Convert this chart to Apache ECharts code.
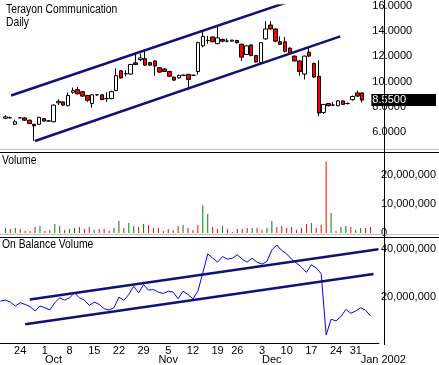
<!DOCTYPE html>
<html><head><meta charset="utf-8">
<script src="https://cdn.jsdelivr.net/npm/echarts@6/dist/echarts.min.js"></script>
<style>html,body{margin:0;padding:0;background:#fff}#c{width:439px;height:365px}</style>
</head><body><div id="c"></div>
<script>
// Trading days (index = x position on every panel). Candles/volume start at index 1.
const dates = [
 '2001-09-18','2001-09-19','2001-09-20','2001-09-21','2001-09-24','2001-09-25','2001-09-26','2001-09-27','2001-09-28',
 '2001-10-01','2001-10-02','2001-10-03','2001-10-04','2001-10-05','2001-10-08','2001-10-09','2001-10-10','2001-10-11','2001-10-12',
 '2001-10-15','2001-10-16','2001-10-17','2001-10-18','2001-10-19','2001-10-22','2001-10-23','2001-10-24','2001-10-25','2001-10-26',
 '2001-10-29','2001-10-30','2001-10-31','2001-11-01','2001-11-02','2001-11-05','2001-11-06','2001-11-07','2001-11-08','2001-11-09',
 '2001-11-12','2001-11-13','2001-11-14','2001-11-15','2001-11-16','2001-11-19','2001-11-20','2001-11-21','2001-11-23',
 '2001-11-26','2001-11-27','2001-11-28','2001-11-29','2001-11-30','2001-12-03','2001-12-04','2001-12-05','2001-12-06','2001-12-07',
 '2001-12-10','2001-12-11','2001-12-12','2001-12-13','2001-12-14','2001-12-17','2001-12-18','2001-12-19','2001-12-20','2001-12-21',
 '2001-12-24','2001-12-26','2001-12-27','2001-12-28','2001-12-31','2002-01-02','2002-01-03','2002-01-04'
];
const opens = [7.12,7.15,6.64,7.15,7.14,6.96,6.64,6.64,7.09,6.90,6.84,8.33,8.40,8.10,9.16,9.36,9.21,8.91,8.28,8.96,
 8.96,8.66,8.66,9.29,10.85,10.62,10.60,11.48,11.73,11.81,11.50,11.63,11.10,11.00,10.80,10.35,10.29,10.50,10.57,10.50,
 10.80,12.82,13.24,13.52,12.99,13.32,13.19,13.19,13.24,12.94,12.14,12.89,12.06,11.48,13.37,14.46,14.15,13.14,13.14,12.64,
 12.01,11.63,10.60,12.32,11.43,10.42,7.57,8.28,8.15,8.10,8.48,8.28,8.58,9.11,9.11];
const closes = [7.22,7.15,6.84,7.15,6.96,6.69,6.51,7.19,6.89,6.90,8.15,8.45,8.15,8.91,9.29,9.04,8.86,8.53,8.96,8.96,
 8.58,8.66,9.21,10.47,10.29,10.62,11.35,11.35,11.86,11.30,11.30,11.23,10.75,10.80,10.42,10.12,10.50,10.50,10.17,10.50,
 13.07,13.57,13.24,13.14,13.45,13.19,13.19,13.27,13.07,11.93,12.82,12.06,11.55,13.07,14.15,14.15,13.19,12.94,12.39,12.19,
 11.63,10.80,12.01,12.01,10.37,7.52,8.20,8.10,8.15,8.48,8.20,8.28,8.83,8.86,8.55];
const lows = [7.05,7.10,6.58,7.10,6.92,6.65,5.33,6.60,6.85,6.85,6.80,8.15,8.10,8.05,9.04,9.00,8.80,8.40,7.95,8.90,
 8.55,8.40,8.62,9.25,10.25,10.40,10.55,11.30,11.60,11.25,11.25,10.47,10.70,10.75,10.40,10.05,10.25,10.45,9.36,10.45,
 10.55,12.70,12.99,13.10,12.95,13.10,13.10,13.15,13.00,11.63,12.10,12.00,11.50,11.40,13.30,14.10,13.10,12.90,12.30,12.10,
 11.60,10.47,10.17,11.95,10.30,7.27,7.45,8.05,8.10,8.05,8.15,8.20,8.50,8.80,8.35];
const highs = [7.35,7.25,7.00,7.18,7.20,7.00,6.66,7.22,7.12,6.95,8.20,8.60,8.45,9.16,9.54,9.58,9.25,8.95,9.00,9.00,
 9.00,9.16,9.30,11.05,10.90,10.90,11.40,12.19,12.20,12.44,11.55,11.68,11.15,11.05,10.85,10.40,10.55,10.55,10.60,10.55,
 13.15,13.95,13.60,13.55,14.46,13.40,13.40,13.30,13.30,13.00,12.85,12.95,12.10,13.10,14.76,14.76,14.20,13.57,13.52,12.70,
 12.05,11.68,12.05,12.69,11.50,11.68,8.25,8.30,8.40,8.55,8.50,8.35,8.90,9.29,9.15];
// Volume in millions of shares, and whether the bar is an up (green) day
const volumeM = [1.72,1.38,1.72,1.38,0.69,0.69,2.07,2.41,0.69,1.03,3.10,2.41,1.03,1.38,1.72,2.07,1.38,2.07,1.03,1.38,
 1.38,0.69,1.72,4.14,1.72,3.45,2.41,2.07,3.10,2.76,1.72,1.72,0.69,1.38,1.03,2.41,2.76,1.72,1.03,2.76,
 9.60,6.55,2.07,1.38,2.41,1.38,0.34,1.38,1.38,1.72,1.72,1.72,1.03,1.72,4.14,2.07,2.41,1.72,2.07,1.03,
 1.72,3.10,3.45,1.72,2.76,24.6,6.90,0.69,2.07,2.41,2.07,1.03,1.72,1.72,2.07];
const volumeUp = [1,0,1,0,0,0,0,1,0,1,1,1,0,1,1,0,0,0,1,0,
 0,0,1,1,0,1,1,0,1,0,0,0,0,0,0,0,1,0,0,0,
 1,1,0,0,1,0,1,0,0,0,1,0,0,1,1,0,0,0,0,0,
 0,0,1,0,0,0,1,0,1,1,0,1,1,0,0];
// On Balance Volume in millions, from 2001-09-18
const obvM = [18.19,18.61,17.78,16.12,17.50,16.81,15.85,14.05,16.12,15.43,14.47,17.50,19.57,18.61,19.57,21.64,19.57,18.61,16.40,17.78,
 16.81,15.02,14.47,15.43,19.85,18.47,20.95,24.40,21.64,25.09,22.75,23.02,21.92,21.37,22.33,21.92,19.16,22.33,20.95,19.16,
 22.33,29.93,37.93,36.14,34.48,36.83,35.72,36.14,37.52,35.72,34.48,36.14,34.48,33.65,34.76,39.59,41.66,39.31,37.93,35.72,
 34.07,32.41,30.20,33.38,32.00,29.65,3.98,10.60,9.91,11.71,14.74,13.09,14.05,15.43,14.33,11.98];
// Trend lines: [day index, value]
const priceUpperTrend = [[2.2, 8.91], [59.8, 16.3]];
const priceLowerTrend = [[7.14, 5.32], [70.46, 13.57]];
const obvUpperTrendM = [[5.94, 18.9], [76.6, 39.9]];
const obvLowerTrendM = [[5.0, 8.5], [75.6, 29.5]];
// Axis labels
const weekTicks = ['2001-09-24','2001-10-01','2001-10-08','2001-10-15','2001-10-22','2001-10-29','2001-11-05','2001-11-12',
 '2001-11-19','2001-11-26','2001-12-03','2001-12-10','2001-12-17','2001-12-24','2001-12-31'];
const monthTicks = ['2001-10-01','2001-11-01','2001-12-03','2002-01-02'];
const monthLabels = ['Oct','Nov','Dec','Jan 2002'];
const priceTicks = [6,8,10,12,14,16];
const volumeTicks = [0,10000000,20000000];
const obvTicks = [20000000,40000000];

const FONT = 'Liberation Sans';
const weekIdx = weekTicks.map(d => dates.indexOf(d));
const monthIdx = monthTicks.map(d => dates.indexOf(d));
const XMIN = -0.1, XMAX = 76.7;
const fmtInt = v => Math.round(v).toLocaleString('en-US');

const candleData = opens.map((o, i) => [i + 1, o, closes[i], lows[i], highs[i]]);
const volData = volumeM.map((v, i) => ({value: [i + 1, v * 1e6], itemStyle: {color: volumeUp[i] ? '#008000' : '#ff0000'}}));
const obvData = obvM.map((v, i) => [i, v * 1e6]);
const lastClose = closes[closes.length - 1];

const chart = echarts.init(document.getElementById('c'), null, {renderer: 'canvas'});
const hiddenX = g => ({type: 'value', gridIndex: g, min: XMIN, max: XMAX, show: false});
const yBase = {position: 'right', axisLine: {show: false}, axisTick: {show: false}, splitLine: {show: false}};
const lblBase = {color: '#000', fontSize: 11, fontFamily: FONT, margin: 2, verticalAlignMaxLabel: 'middle', verticalAlignMinLabel: 'middle'};
const PMIN = 4.69, PMAX = 16;
const txt = (t, l, tp) => ({type: 'text', left: l, top: tp, scaleX: 0.86,
  style: {text: t, font: '12px "Liberation Sans"', fill: '#000'}, z: 10});
chart.setOption({
  animation: false,
  backgroundColor: '#fff',
  grid: [
    {left: 0, width: 384, top: 0, height: 149},
    {left: 0, width: 384, top: 152, height: 81},
    {left: 0, width: 384, top: 237, height: 107}
  ],
  xAxis: [
    hiddenX(0), hiddenX(1),
    {type: 'value', gridIndex: 2, min: XMIN, max: XMAX, position: 'bottom',
     axisLine: {show: true, lineStyle: {color: '#000', width: 1}}, axisTick: {show: false}, splitLine: {show: false},
     axisLabel: {customValues: weekIdx, color: '#000', fontSize: 11, fontFamily: FONT, margin: 2,
       formatter: v => String(Number(dates[Math.round(v)].slice(8)))}},
    {type: 'value', gridIndex: 2, min: XMIN, max: XMAX, position: 'bottom',
     axisLine: {show: false}, axisTick: {show: false}, splitLine: {show: false},
     axisLabel: {customValues: monthIdx, color: '#000', fontSize: 11, fontFamily: FONT, margin: 11, align: 'left',
       formatter: v => monthLabels[monthIdx.indexOf(Math.round(v))]}}
  ],
  yAxis: [
    Object.assign({type: 'value', gridIndex: 0, min: PMIN, max: PMAX,
      axisLabel: Object.assign({customValues: priceTicks, formatter: v => v.toFixed(4)}, lblBase)}, yBase),
    Object.assign({type: 'value', gridIndex: 1, min: 0, max: 27.9e6,
      axisLabel: Object.assign({customValues: volumeTicks, formatter: fmtInt}, lblBase)}, yBase),
    Object.assign({type: 'value', gridIndex: 2, min: 0.66e6, max: 45e6,
      axisLabel: Object.assign({customValues: obvTicks, formatter: fmtInt}, lblBase)}, yBase),
    Object.assign({type: 'value', gridIndex: 0, min: PMIN, max: PMAX, z: 8,
      axisLabel: {customValues: [lastClose], formatter: v => v.toFixed(4), color: '#fff', backgroundColor: '#000',
        padding: [1, 30, 0, 1], margin: 1, fontSize: 11, fontFamily: FONT}}, yBase)
  ],
  series: [
    {type: 'candlestick', xAxisIndex: 0, yAxisIndex: 0, data: candleData, encode: {x: 0, y: [1, 2, 3, 4]},
     barWidth: 4,
     itemStyle: {color: '#fff', color0: '#ff0000', borderColor: '#000', borderColor0: '#000', borderColorDoji: '#000', borderWidth: 1}},
    {type: 'line', xAxisIndex: 0, yAxisIndex: 0, data: priceUpperTrend, symbol: 'none', lineStyle: {color: '#10107a', width: 2.5}, z: 5},
    {type: 'line', xAxisIndex: 0, yAxisIndex: 0, data: priceLowerTrend, symbol: 'none', lineStyle: {color: '#10107a', width: 2.5}, z: 5},
    {type: 'bar', xAxisIndex: 1, yAxisIndex: 1, data: volData, barWidth: 1},
    {type: 'line', xAxisIndex: 2, yAxisIndex: 2, data: obvData, symbol: 'none', lineStyle: {color: '#0000ff', width: 1}},
    {type: 'line', xAxisIndex: 2, yAxisIndex: 2, data: obvUpperTrendM.map(p => [p[0], p[1] * 1e6]), symbol: 'none', lineStyle: {color: '#10107a', width: 2.5}, z: 5},
    {type: 'line', xAxisIndex: 2, yAxisIndex: 2, data: obvLowerTrendM.map(p => [p[0], p[1] * 1e6]), symbol: 'none', lineStyle: {color: '#10107a', width: 2.5}, z: 5}
  ],
  graphic: [
    {type: 'line', shape: {x1: 0, y1: 149.5, x2: 439, y2: 149.5}, style: {stroke: '#c0c0c0', lineWidth: 1}, z: 10},
    {type: 'line', shape: {x1: 0, y1: 152.5, x2: 439, y2: 152.5}, style: {stroke: '#000', lineWidth: 1}, z: 10},
    {type: 'line', shape: {x1: 0, y1: 234.5, x2: 439, y2: 234.5}, style: {stroke: '#c0c0c0', lineWidth: 1}, z: 10},
    {type: 'line', shape: {x1: 0, y1: 237.5, x2: 439, y2: 237.5}, style: {stroke: '#000', lineWidth: 1}, z: 10},
    {type: 'line', shape: {x1: 384.5, y1: 0, x2: 384.5, y2: 345}, style: {stroke: '#000', lineWidth: 1}, z: 10},
    txt('Terayon Communication', 6, 4),
    txt('Daily', 6, 17),
    txt('Volume', 2, 155),
    txt('On Balance Volume', 2, 239)
  ]
});
</script>
</body></html>
